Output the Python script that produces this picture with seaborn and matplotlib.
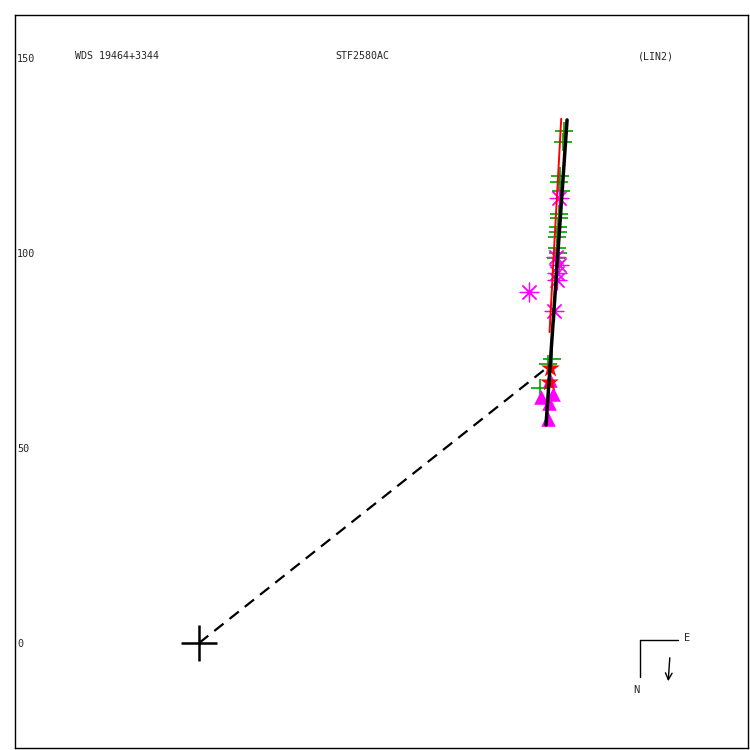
import seaborn as sns
import matplotlib
matplotlib.use("Agg")
import matplotlib.pyplot as plt
from pandas import DataFrame

plus_x = [93.6, 93.3, 92.6, 92.3, 92.8, 92.3, 92.3, 92.1, 92.1, 91.8, 91.8, 92.1, 91.5, 90.5, 89.5, 87.4]
plus_y = [131.3, 128.5, 119.7, 118.2, 115.9, 110.0, 109.0, 106.7, 105.4, 104.1, 101.3, 100.0, 98.7, 72.8, 71.5, 65.4]

ast_x = [92.3, 91.5, 92.3, 91.8, 91.8, 84.6, 91.0]
ast_y = [114.1, 99.0, 96.9, 94.9, 93.1, 90.0, 85.1]

star_x = [90.0, 89.7]
star_y = [70.5, 66.9]

tri_x = [90.0, 87.7, 90.8, 89.7, 89.5]
tri_y = [67.4, 63.1, 63.8, 61.5, 57.4]

# linear fit (black), earlier fit (red), primary -> closest approach (dashed)
fit_x = [89.0, 94.4]
fit_y = [55.9, 134.1]
old_x = [89.9, 92.9]
old_y = [79.7, 134.4]
sep_x = [0.0, 88.5]
sep_y = [0.0, 70.0]

yticks = [0, 50, 100, 150]

sns.set_style("white")
plt.rcParams['font.family'] = ['DejaVu Sans Mono', 'DejaVu Sans']
plt.rcParams['axes.edgecolor'] = 'black'
plt.rcParams['axes.linewidth'] = 1.0
plt.rcParams['lines.scale_dashes'] = False

fig = plt.figure(figsize=(7.5, 7.5), dpi=100)
ax = fig.add_axes([0.02, 0.0027, 0.9773, 0.9773])

# markers
sns.scatterplot(x='x', y='y', data=DataFrame({'x': plus_x, 'y': plus_y}), ax=ax,
    marker='+', color='#00a000', s=150, linewidth=1.2, zorder=2)
sns.scatterplot(x='x', y='y', data=DataFrame({'x': ast_x, 'y': ast_y}), ax=ax,
    marker=(8, 2, 0), color='#ff00ff', s=180, linewidth=0.9, zorder=2)
sns.scatterplot(x='x', y='y', data=DataFrame({'x': tri_x, 'y': tri_y}), ax=ax,
    marker='^', color='#ff00ff', edgecolor='#ff00ff', s=110, linewidth=0, zorder=2)
sns.scatterplot(x='x', y='y', data=DataFrame({'x': star_x, 'y': star_y}), ax=ax,
    marker='*', color='#ff0000', edgecolor='#ff0000', s=200, linewidth=0, zorder=3)

# lines
sns.lineplot(x='x', y='y', data=DataFrame({'x': old_x, 'y': old_y}), ax=ax,
    estimator=None, sort=False, color='red', linewidth=1.4, zorder=4)
sns.lineplot(x='x', y='y', data=DataFrame({'x': fit_x, 'y': fit_y}), ax=ax,
    estimator=None, sort=False, color='black', linewidth=2.5, zorder=5)
ax.plot(sep_x, sep_y, color='black', linewidth=1.6, dashes=(8.5, 5.5), zorder=5)

# primary star
ax.plot([0], [0], marker='+', markersize=26, markeredgewidth=1.8, color='black', zorder=6)

ax.set_xlim(-47.2, 140.8)
ax.set_ylim(-26.9, 161.0)
ax.set_xlabel('')
ax.set_ylabel('')
ax.set_xticks([])
ax.set_yticks(yticks)
ax.set_yticklabels([str(t) for t in yticks], fontsize=7.3, ha='left')
ax.tick_params(axis='y', length=0, pad=-1.5)

# header texts
fig.text(0.1, 0.925, 'WDS 19464+3344', fontsize=7.2, va='center', ha='left')
fig.text(0.447, 0.925, 'STF2580AC', fontsize=7.2, va='center', ha='left')
fig.text(0.851, 0.925, '(LIN2)', fontsize=7.2, va='center', ha='left')

# compass
fig.add_artist(plt.Line2D([0.8533, 0.904], [0.1467, 0.1467], color='black', linewidth=1))
fig.add_artist(plt.Line2D([0.8533, 0.8533], [0.1467, 0.0973], color='black', linewidth=1))
fig.text(0.916, 0.1493, 'E', fontsize=7.5, va='center', ha='center')
fig.text(0.849, 0.080, 'N', fontsize=7.5, va='center', ha='center')
ax.annotate('', xy=(0.8907, 0.088), xytext=(0.8933, 0.1267), xycoords='figure fraction',
    textcoords='figure fraction',
    arrowprops=dict(arrowstyle='->', color='black', linewidth=1, mutation_scale=12))

plt.savefig('out.png', dpi=100)
